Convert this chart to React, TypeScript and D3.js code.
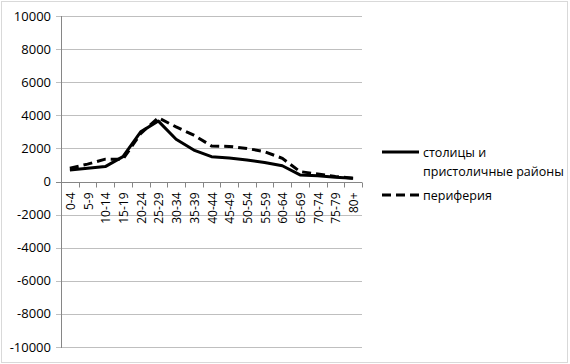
import React, { useEffect, useRef } from 'react';
import * as d3 from 'd3';

// age groups
const categories = ['0-4', '5-9', '10-14', '15-19', '20-24', '25-29', '30-34', '35-39', '40-44',
  '45-49', '50-54', '55-59', '60-64', '65-69', '70-74', '75-79', '80+'];

// capitals and suburban districts
const capitals = [700, 800, 900, 1500, 3000, 3650, 2550, 1900, 1500, 1420, 1300, 1150, 950, 400, 350, 250, 200];

// periphery
const periphery = [800, 1050, 1350, 1350, 2900, 3850, 3300, 2800, 2150, 2120, 2000, 1800, 1400, 600, 450, 300, 200];

const yTicks = [-10000, -8000, -6000, -4000, -2000, 0, 2000, 4000, 6000, 8000, 10000];

const FONT = '"Open Sans", "Noto Sans", sans-serif';

function App() {
  const svgRef = useRef<SVGSVGElement | null>(null);

  useEffect(() => {
    if (!svgRef.current) return;
    const svg = d3.select(svgRef.current);
    svg.selectAll('*').remove();

    const width = 570;
    const height = 364;
    const left = 61;
    const right = 362;
    const top = 16;
    const bottom = 347;

    // outer frame
    svg.append('rect')
      .attr('x', 1.5).attr('y', 1.5)
      .attr('width', width - 4).attr('height', height - 3)
      .attr('fill', '#fff')
      .attr('stroke', '#d9d9d9');

    const x = d3.scaleBand().domain(categories).range([left, right]);
    const y = d3.scaleLinear().domain([-10000, 10000]).range([bottom, top]);

    // gridlines
    svg.append('g').selectAll('line')
      .data(yTicks)
      .join('line')
      .attr('x1', left - 5).attr('x2', right)
      .attr('y1', d => Math.round(y(d)) + 0.5)
      .attr('y2', d => Math.round(y(d)) + 0.5)
      .attr('stroke', d => d === 0 ? '#868686' : '#bfbfbf')
      .attr('stroke-width', 1);

    // y labels
    svg.append('g').selectAll('text')
      .data(yTicks)
      .join('text')
      .attr('x', 51)
      .attr('y', d => y(d))
      .attr('dy', '0.35em')
      .attr('text-anchor', 'end')
      .attr('font-family', FONT)
      .attr('font-size', 13)
      .attr('fill', '#000')
      .text(d => String(d));

    // y axis line
    svg.append('line')
      .attr('x1', left + 0.5).attr('x2', left + 0.5)
      .attr('y1', top).attr('y2', bottom + 1)
      .attr('stroke', '#868686');

    // x axis ticks
    const zeroY = Math.round(y(0)) + 0.5;
    svg.append('g').selectAll('line')
      .data(categories.map((c, i) => i).concat([categories.length]))
      .join('line')
      .attr('x1', i => Math.round(left + i * x.step()) + 0.5)
      .attr('x2', i => Math.round(left + i * x.step()) + 0.5)
      .attr('y1', zeroY)
      .attr('y2', zeroY + 5)
      .attr('stroke', '#868686');

    // x labels (rotated)
    svg.append('g').selectAll('text')
      .data(categories)
      .join('text')
      .attr('transform', d => `translate(${(x(d) as number) + x.bandwidth() / 2 + 5},${zeroY + 10}) rotate(-90)`)
      .attr('text-anchor', 'end')
      .attr('font-family', FONT)
      .attr('font-size', 12)
      .attr('fill', '#000')
      .text(d => d);

    const line = d3.line<number>()
      .x((d, i) => (x(categories[i]) as number) + x.bandwidth() / 2)
      .y(d => y(d));

    svg.append('path')
      .datum(periphery)
      .attr('d', line)
      .attr('fill', 'none')
      .attr('stroke', '#000')
      .attr('stroke-width', 3)
      .attr('stroke-dasharray', '9,5');

    svg.append('path')
      .datum(capitals)
      .attr('d', line)
      .attr('fill', 'none')
      .attr('stroke', '#000')
      .attr('stroke-width', 3)
      .attr('stroke-linejoin', 'round');

    // legend
    const legend = svg.append('g').attr('font-family', FONT).attr('font-size', 12.5);
    legend.append('line')
      .attr('x1', 382).attr('x2', 419).attr('y1', 152).attr('y2', 152)
      .attr('stroke', '#000').attr('stroke-width', 3);
    legend.append('text').attr('x', 423).attr('y', 157).text('столицы и');
    legend.append('text').attr('x', 423).attr('y', 176).text('пристоличные районы');
    legend.append('line')
      .attr('x1', 382).attr('x2', 419).attr('y1', 195).attr('y2', 195)
      .attr('stroke', '#000').attr('stroke-width', 3)
      .attr('stroke-dasharray', '9,5');
    legend.append('text').attr('x', 423).attr('y', 200).text('периферия');
  }, []);

  return (
    <svg ref={svgRef} width={570} height={364}
      style={{ position: 'absolute', left: 0, top: 0, display: 'block' }} />
  );
}

export default App;
